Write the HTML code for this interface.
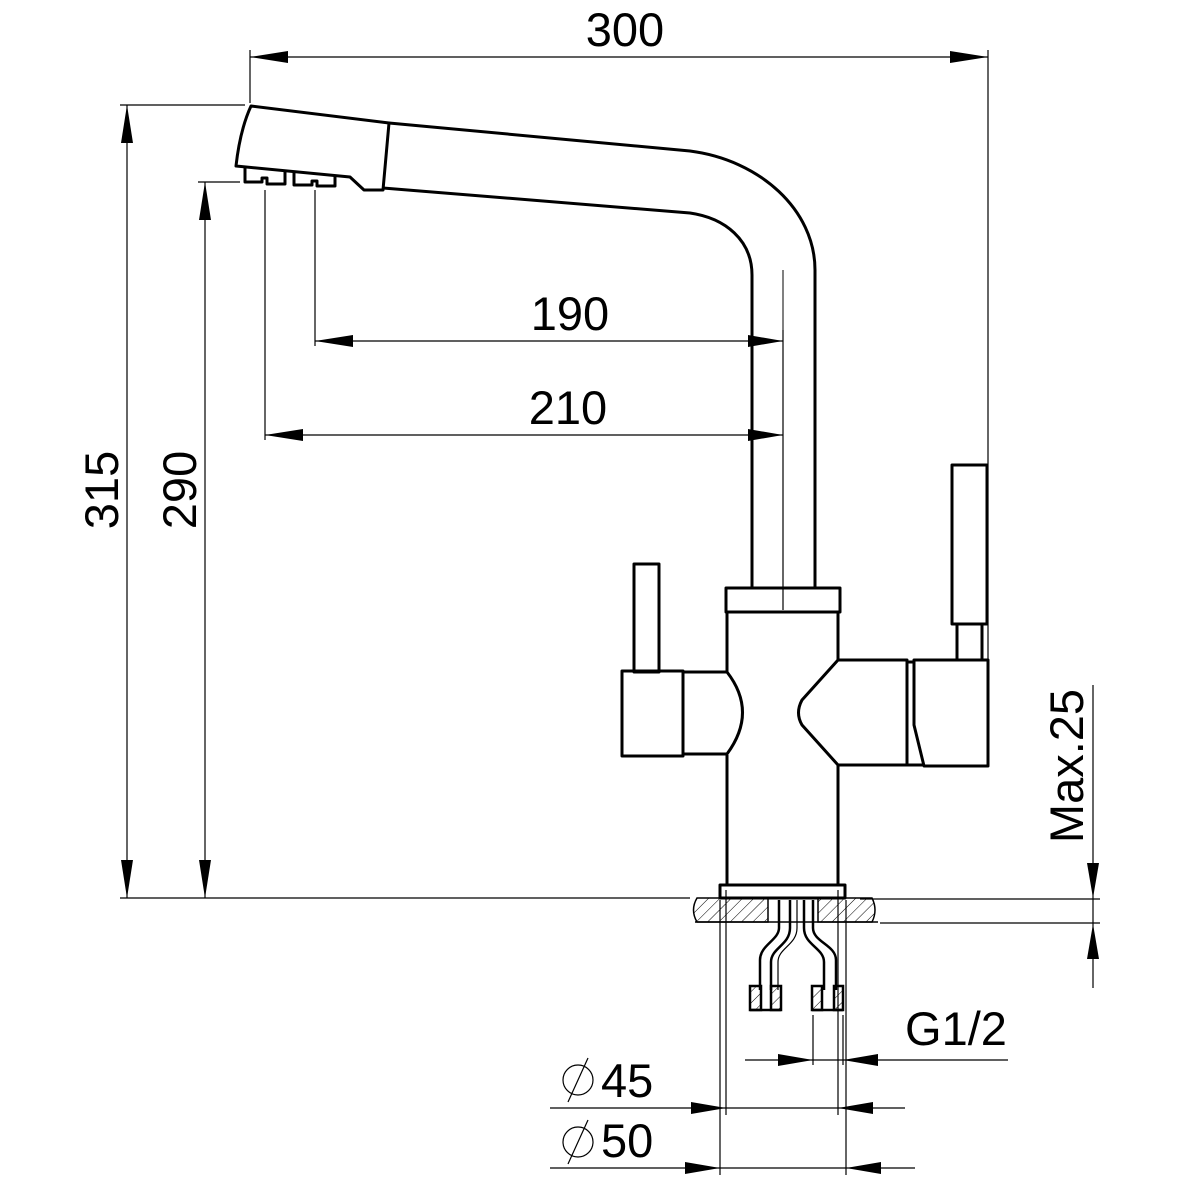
<!DOCTYPE html>
<html><head><meta charset="utf-8"><style>html,body{margin:0;padding:0;background:#fff}svg{display:block}</style></head>
<body>
<svg width="1200" height="1200" viewBox="0 0 1200 1200" xmlns="http://www.w3.org/2000/svg">
<defs>
<pattern id="h" width="8" height="8" patternUnits="userSpaceOnUse" patternTransform="rotate(45)">
<line x1="0" y1="0" x2="0" y2="8" stroke="#000" stroke-width="1"/>
</pattern>
</defs>
<g font-family="Liberation Sans, sans-serif" font-size="47" fill="#000">
<text x="625" y="46" text-anchor="middle">300</text>
<text x="570" y="330" text-anchor="middle">190</text>
<text x="568" y="424" text-anchor="middle">210</text>
<text x="956" y="1045" text-anchor="middle">G1/2</text>
<text x="601" y="1097">45</text>
<text x="601" y="1157">50</text>
<text transform="translate(118,490) rotate(-90)" text-anchor="middle">315</text>
<text transform="translate(196,490) rotate(-90)" text-anchor="middle">290</text>
<text transform="translate(1083,766) rotate(-90)" text-anchor="middle">Max.25</text>
</g>
<g fill="none" stroke="#000" stroke-width="1.2">
<circle cx="578" cy="1080" r="15"/><line x1="568" y1="1102" x2="588" y2="1058"/>
<circle cx="578" cy="1142" r="15"/><line x1="568" y1="1164" x2="588" y2="1120"/>
<line x1="250" y1="57" x2="988" y2="57"/>
<line x1="250" y1="50" x2="250" y2="103"/>
<line x1="988" y1="50" x2="988" y2="660"/>
<line x1="127" y1="105" x2="127" y2="898"/>
<line x1="205" y1="182" x2="205" y2="898"/>
<line x1="120" y1="105" x2="245" y2="105"/>
<line x1="198" y1="182" x2="240" y2="182"/>
<line x1="120" y1="898" x2="690" y2="898"/>
<line x1="860" y1="899" x2="1100" y2="899"/>
<line x1="880" y1="923" x2="1100" y2="923"/>
<line x1="1093" y1="685" x2="1093" y2="988"/>
<line x1="315" y1="341" x2="783" y2="341"/>
<line x1="265" y1="435" x2="783" y2="435"/>
<line x1="265" y1="190" x2="265" y2="440"/>
<line x1="315" y1="190" x2="315" y2="346"/>
<line x1="783" y1="330" x2="783" y2="610"/>
<line x1="745" y1="1060" x2="1008" y2="1060"/>
<line x1="813" y1="1015" x2="813" y2="1065"/>
<line x1="843" y1="1015" x2="843" y2="1065"/>
<line x1="550" y1="1108" x2="905" y2="1108"/>
<line x1="550" y1="1168" x2="915" y2="1168"/>
<line x1="720" y1="900" x2="720" y2="1175"/>
<line x1="846" y1="900" x2="846" y2="1175"/>
<line x1="726" y1="890" x2="726" y2="1115"/>
<line x1="838" y1="890" x2="838" y2="1115"/>
</g>
<g fill="#000">
<polygon points="250,57 288,51 288,63"/><polygon points="988,57 950,51 950,63"/>
<polygon points="127,105 121,143 133,143"/><polygon points="127,898 121,860 133,860"/>
<polygon points="205,182 199,220 211,220"/><polygon points="205,898 199,860 211,860"/>
<polygon points="315,341 353,335 353,347"/><polygon points="783,341 748,335 748,347"/>
<polygon points="265,435 303,429 303,441"/><polygon points="783,435 748,429 748,441"/>
<polygon points="1093,898 1087,863 1099,863"/><polygon points="1093,924 1087,959 1099,959"/>
<polygon points="813,1060 778,1054 778,1066"/><polygon points="843,1060 878,1054 878,1066"/>
<polygon points="726,1108 691,1102 691,1114"/><polygon points="838,1108 873,1102 873,1114"/>
<polygon points="720,1168 685,1162 685,1174"/><polygon points="846,1168 881,1162 881,1174"/>
</g>
<g fill="none" stroke="#000" stroke-width="3" stroke-linejoin="round">
<path d="M251,106 L389,123 L383,190 L364,190 L350,177 L236,166 Q240,130 251,106 Z"/>
<path d="M245,168 V182 H262 V178 H267 V184 H285 V171"/>
<path d="M294,172 V185 H312 V181 H317 V186 H335 V175"/>
<path d="M389,123 L690,151 C760,160 815,210 815,270 V588"/>
<path d="M383,188 L690,213 C725,218 752,240 752,275 V588"/>
<rect x="726" y="588" width="114" height="24"/>
<path d="M727,612 V672 M838,612 V660 M727,755 V885 M838,765 V885"/>
<rect x="720" y="885" width="125" height="13"/>
<rect x="634" y="564" width="25" height="108"/>
<rect x="622" y="671" width="61" height="85"/>
<path d="M683,672 H727 Q758,712 727,754 H683"/>
<path d="M838,660 L802,700 Q795,713 802,725 L838,765 H907 V660 Z"/>
<path d="M907,662 H914 L914,660 H988 V766 H924 L914,725 V660 M907,765 H924"/>
<rect x="952" y="465" width="35" height="159"/>
<rect x="957" y="624" width="25" height="36"/>
</g>
<line x1="783" y1="270" x2="783" y2="610" stroke="#000" stroke-width="1"/>
<g stroke="#000" stroke-width="1.5">
<path d="M697,898 H768 V922 H697 Q690,910 697,898 Z" fill="url(#h)"/>
<path d="M818,898 H872 Q878,910 872,922 H818 Z" fill="url(#h)"/>
<line x1="695" y1="922" x2="878" y2="922"/>
</g>
<g fill="none" stroke="#000" stroke-width="2.5">
<path d="M779,900 V928 C779,940 760,945 760,960 V990"/>
<path d="M790,900 V928 C790,945 771,948 771,962 V990"/>
<path d="M797,900 V928 C797,945 778,948 778,962 V990" stroke-width="1.2"/>
<path d="M804,900 V928 C804,945 824,948 824,962 V990"/>
<path d="M813,900 V928 C813,942 836,945 836,960 V990"/>
</g>
<g stroke="#000" stroke-width="2.5" fill="url(#h)">
<rect x="750" y="986" width="11" height="24"/><rect x="771" y="986" width="10" height="24"/>
<rect x="812" y="986" width="10" height="24"/><rect x="834" y="986" width="9" height="24"/>
</g>
<path d="M750,1010 H781 M812,1010 H843" stroke="#000" stroke-width="2.5"/>
</svg>
</body></html>
